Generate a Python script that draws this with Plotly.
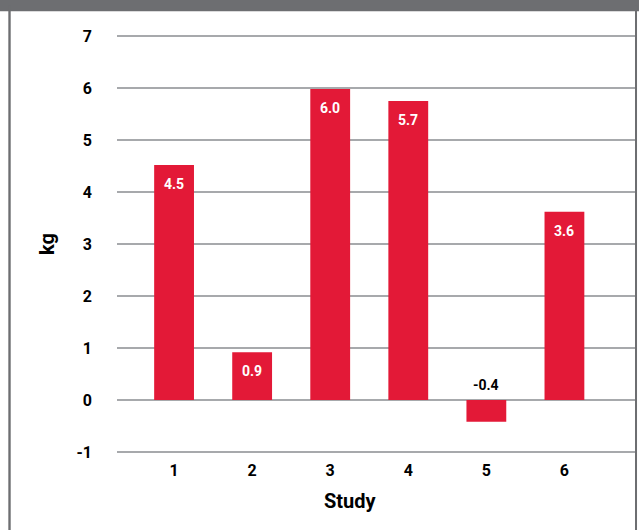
import plotly.graph_objects as go

studies = [1, 2, 3, 4, 5, 6]
values = [4.52, 0.92, 5.98, 5.75, -0.42, 3.62]
labels = ["4.5", "0.9", "6.0", "5.7", "-0.4", "3.6"]
y_ticks = [-1, 0, 1, 2, 3, 4, 5, 6, 7]

RED = "#e31937"
GRID = "#a7a9ac"
BORDER = "#6d6e71"
FONT = "Roboto, Liberation Sans Narrow, sans-serif"

fig = go.Figure(go.Bar(x=studies, y=values, width=0.51, marker_color=RED,
                       marker_line_width=0, hoverinfo="skip"))

annotations = []
for s, v, t in zip(studies, values, labels):
    if v >= 0:
        annotations.append(dict(x=s, y=v, xref="x", yref="y", text=f"<b>{t}</b>",
                                showarrow=False, yanchor="top", yshift=-9,
                                font=dict(family=FONT, size=14, color="white")))
    else:
        annotations.append(dict(x=s, y=0, xref="x", yref="y", text=f"<b>{t}</b>",
                                showarrow=False, yanchor="bottom", yshift=5,
                                font=dict(family=FONT, size=14, color="black")))

annotations.append(dict(x=0.45, y=-0.082, xref="paper", yref="paper", text="<b>Study</b>",
                        showarrow=False, xanchor="center", yanchor="top",
                        font=dict(family=FONT, size=20, color="black")))
annotations.append(dict(x=-0.135, y=0.5, xref="paper", yref="paper", text="<b>kg</b>",
                        showarrow=False, textangle=-90, xanchor="center", yanchor="middle",
                        font=dict(family=FONT, size=20, color="black")))

shapes = [
    dict(type="rect", xref="paper", yref="paper", x0=-0.2259, x1=1.0077, y0=1.057, y1=1.09,
         fillcolor=BORDER, line_width=0, layer="above"),
    dict(type="rect", xref="paper", yref="paper", x0=-0.2098, x1=-0.2052, y0=-0.19, y1=1.07,
         fillcolor=BORDER, line_width=0, layer="above"),
    dict(type="rect", xref="paper", yref="paper", x0=1.0, x1=1.0039, y0=-0.19, y1=1.07,
         fillcolor=BORDER, line_width=0, layer="above"),
]

fig.update_layout(
    width=639, height=530,
    margin=dict(l=117, r=4, t=35, b=77),
    paper_bgcolor="white", plot_bgcolor="white",
    showlegend=False,
    annotations=annotations,
    shapes=shapes,
    font=dict(family=FONT, color="black"),
)
fig.update_xaxes(range=[0.269, 6.904], tickmode="array", tickvals=studies,
                 ticktext=[f"<b>{s}</b>" for s in studies],
                 tickfont=dict(family=FONT, size=16, color="black"),
                 showgrid=False, zeroline=False, showline=False, ticks="",
                 ticklabelstandoff=6, fixedrange=True)
fig.update_yaxes(range=[-1.02, 7.02], tickmode="array", tickvals=y_ticks,
                 ticktext=[f"<b>{t}</b>" for t in y_ticks],
                 tickfont=dict(family=FONT, size=16, color="black"),
                 showgrid=True, gridcolor=GRID, gridwidth=1.5,
                 zeroline=True, zerolinecolor=GRID, zerolinewidth=1.5,
                 showline=False, ticks="", ticklabelstandoff=24, fixedrange=True)

fig.write_html("out.html", config={"displayModeBar": False},
               post_script="document.body.style.margin='0';")
